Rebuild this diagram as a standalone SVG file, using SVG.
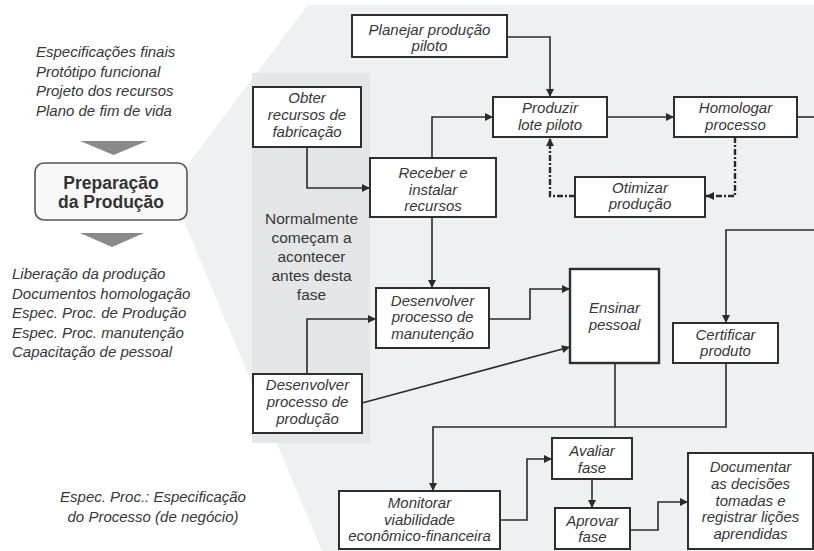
<svg xmlns="http://www.w3.org/2000/svg" width="814" height="551" viewBox="0 0 814 551">
  <defs>
    <marker id="arrow" viewBox="0 0 10 10" refX="10" refY="5" markerWidth="9" markerHeight="8" markerUnits="userSpaceOnUse" orient="auto">
      <path d="M0,0 L10,5 L0,10 z" fill="#2b2b2b"/>
    </marker>
    <style>
      .box { fill: #ffffff; stroke: #2e2e2e; stroke-width: 2; }
      .box-thick { fill: #ffffff; stroke: #2e2e2e; stroke-width: 2.4; }
      .lbl { font-family: "Liberation Sans", Arial, sans-serif; font-size: 15px; font-style: italic; fill: #363636; text-anchor: middle; }
      .side { font-family: "Liberation Sans", Arial, sans-serif; font-size: 15px; font-style: italic; fill: #363636; }
      .note { font-family: "Liberation Sans", Arial, sans-serif; font-size: 15.5px; fill: #363636; text-anchor: middle; }
      .phase { font-family: "Liberation Sans", Arial, sans-serif; font-size: 17.5px; font-weight: bold; fill: #333333; text-anchor: middle; }
      .conn { fill: none; stroke: #2b2b2b; stroke-width: 1.6; }
      .conn-dash { fill: none; stroke: #2b2b2b; stroke-width: 2.4; stroke-dasharray: 6 2 2 2; }
      .down { fill: #8a8a8a; }
    </style>
  </defs>

  <!-- phase detail backdrop -->
  <polygon points="308,5 814,5 814,551 322,551 170,188" fill="#eff0f2"/>
  <rect x="252" y="73" width="118" height="370" fill="#e5e6e8"/>

  <!-- left column: phase inputs and outputs -->
  <g id="inputs">
    <text class="side" x="36" y="57">Especificações finais</text>
    <text class="side" x="36" y="77">Protótipo funcional</text>
    <text class="side" x="36" y="96">Projeto dos recursos</text>
    <text class="side" x="36" y="116">Plano de fim de vida</text>
  </g>
  <polygon class="down" points="80,141 147,141 113.5,155"/>
  <g id="phase">
    <rect x="35" y="163" width="152" height="57" rx="9" fill="#f8f8f8" stroke="#555555" stroke-width="1.6"/>
    <text class="phase" x="111" y="189">Preparação</text>
    <text class="phase" x="111" y="208">da Produção</text>
  </g>
  <polygon class="down" points="80,233 144,233 112,247"/>
  <g id="outputs">
    <text class="side" x="12" y="279">Liberação da produção</text>
    <text class="side" x="12" y="299">Documentos homologação</text>
    <text class="side" x="12" y="318">Espec. Proc. de Produção</text>
    <text class="side" x="12" y="338">Espec. Proc. manutenção</text>
    <text class="side" x="12" y="357">Capacitação de pessoal</text>
  </g>
  <g id="legend">
    <text class="lbl" x="153" y="502">Espec. Proc.: Especificação</text>
    <text class="lbl" x="153" y="522">do Processo (de negócio)</text>
  </g>
  <g id="early-note">
    <text class="note" x="311.5" y="224">Normalmente</text>
    <text class="note" x="311.5" y="243">começam a</text>
    <text class="note" x="311.5" y="262">acontecer</text>
    <text class="note" x="311.5" y="281">antes desta</text>
    <text class="note" x="311.5" y="300">fase</text>
  </g>

  <!-- connectors -->
  <g id="connectors">
    <path class="conn" d="M507,37 H550 V97" marker-end="url(#arrow)"/>
    <path class="conn" d="M607,117 H674" marker-end="url(#arrow)"/>
    <path class="conn" d="M797,117 H814"/>
    <path class="conn-dash" d="M735,137 V196 H706" marker-end="url(#arrow)"/>
    <path class="conn-dash" d="M575,196 H550 V138" marker-end="url(#arrow)"/>
    <path class="conn" d="M307,147 V188 H370" marker-end="url(#arrow)"/>
    <path class="conn" d="M432,158 V117 H493" marker-end="url(#arrow)"/>
    <path class="conn" d="M432,217 V288" marker-end="url(#arrow)"/>
    <path class="conn" d="M307,374 V319 H376" marker-end="url(#arrow)"/>
    <path class="conn" d="M489,319 H530 V289 H570" marker-end="url(#arrow)"/>
    <path class="conn" d="M362,403 L570,347" marker-end="url(#arrow)"/>
    <path class="conn" d="M814,230 H726 V323" marker-end="url(#arrow)"/>
    <path class="conn" d="M615,363 V427"/>
    <path class="conn" d="M726,363 V427 H433 V491" marker-end="url(#arrow)"/>
    <path class="conn" d="M500,520 H527 V459 H552" marker-end="url(#arrow)"/>
    <path class="conn" d="M592,479 V508" marker-end="url(#arrow)"/>
    <path class="conn" d="M630,530 H658 V502 H688" marker-end="url(#arrow)"/>
  </g>

  <!-- activity nodes -->
  <g id="planejar">
    <rect class="box" x="352" y="15" width="155" height="42"/>
    <text class="lbl" x="429.5" y="35">Planejar produção</text>
    <text class="lbl" x="429.5" y="51">piloto</text>
  </g>
  <g id="produzir">
    <rect class="box" x="493" y="97" width="114" height="40"/>
    <text class="lbl" x="550" y="113">Produzir</text>
    <text class="lbl" x="550" y="130">lote piloto</text>
  </g>
  <g id="homologar">
    <rect class="box" x="674" y="97" width="123" height="40"/>
    <text class="lbl" x="735.5" y="113">Homologar</text>
    <text class="lbl" x="735.5" y="130">processo</text>
  </g>
  <g id="otimizar">
    <rect class="box" x="575" y="177" width="130" height="40"/>
    <text class="lbl" x="640" y="193">Otimizar</text>
    <text class="lbl" x="640" y="209">produção</text>
  </g>
  <g id="obter">
    <rect class="box" x="253" y="87" width="108" height="60"/>
    <text class="lbl" x="307" y="103">Obter</text>
    <text class="lbl" x="307" y="120">recursos de</text>
    <text class="lbl" x="307" y="137">fabricação</text>
  </g>
  <g id="receber">
    <rect class="box" x="370" y="158" width="126" height="59"/>
    <text class="lbl" x="433" y="178">Receber e</text>
    <text class="lbl" x="433" y="195">instalar</text>
    <text class="lbl" x="433" y="211">recursos</text>
  </g>
  <g id="desenvolver-manutencao">
    <rect class="box" x="376" y="288" width="113" height="60"/>
    <text class="lbl" x="432.5" y="306">Desenvolver</text>
    <text class="lbl" x="432.5" y="322">processo de</text>
    <text class="lbl" x="432.5" y="339">manutenção</text>
  </g>
  <g id="desenvolver-producao">
    <rect class="box" x="253" y="374" width="109" height="59"/>
    <text class="lbl" x="307.5" y="390">Desenvolver</text>
    <text class="lbl" x="307.5" y="407">processo de</text>
    <text class="lbl" x="307.5" y="424">produção</text>
  </g>
  <g id="ensinar">
    <rect class="box-thick" x="570" y="269" width="89" height="94"/>
    <text class="lbl" x="614.5" y="313">Ensinar</text>
    <text class="lbl" x="614.5" y="330">pessoal</text>
  </g>
  <g id="certificar">
    <rect class="box" x="673" y="323" width="105" height="40"/>
    <text class="lbl" x="725.5" y="340">Certificar</text>
    <text class="lbl" x="725.5" y="356">produto</text>
  </g>
  <g id="monitorar">
    <rect class="box" x="339" y="491" width="161" height="58"/>
    <text class="lbl" x="419.5" y="508">Monitorar</text>
    <text class="lbl" x="419.5" y="525">viabilidade</text>
    <text class="lbl" x="419.5" y="541">econômico-financeira</text>
  </g>
  <g id="avaliar">
    <rect class="box" x="552" y="438" width="80" height="41"/>
    <text class="lbl" x="592" y="456">Avaliar</text>
    <text class="lbl" x="592" y="473">fase</text>
  </g>
  <g id="aprovar">
    <rect class="box" x="555" y="508" width="75" height="41"/>
    <text class="lbl" x="592.5" y="526">Aprovar</text>
    <text class="lbl" x="592.5" y="542">fase</text>
  </g>
  <g id="documentar">
    <rect class="box" x="688" y="453" width="125" height="96"/>
    <text class="lbl" x="750.5" y="472">Documentar</text>
    <text class="lbl" x="750.5" y="489">as decisões</text>
    <text class="lbl" x="750.5" y="506">tomadas e</text>
    <text class="lbl" x="750.5" y="522">registrar lições</text>
    <text class="lbl" x="750.5" y="539">aprendidas</text>
  </g>
</svg>
